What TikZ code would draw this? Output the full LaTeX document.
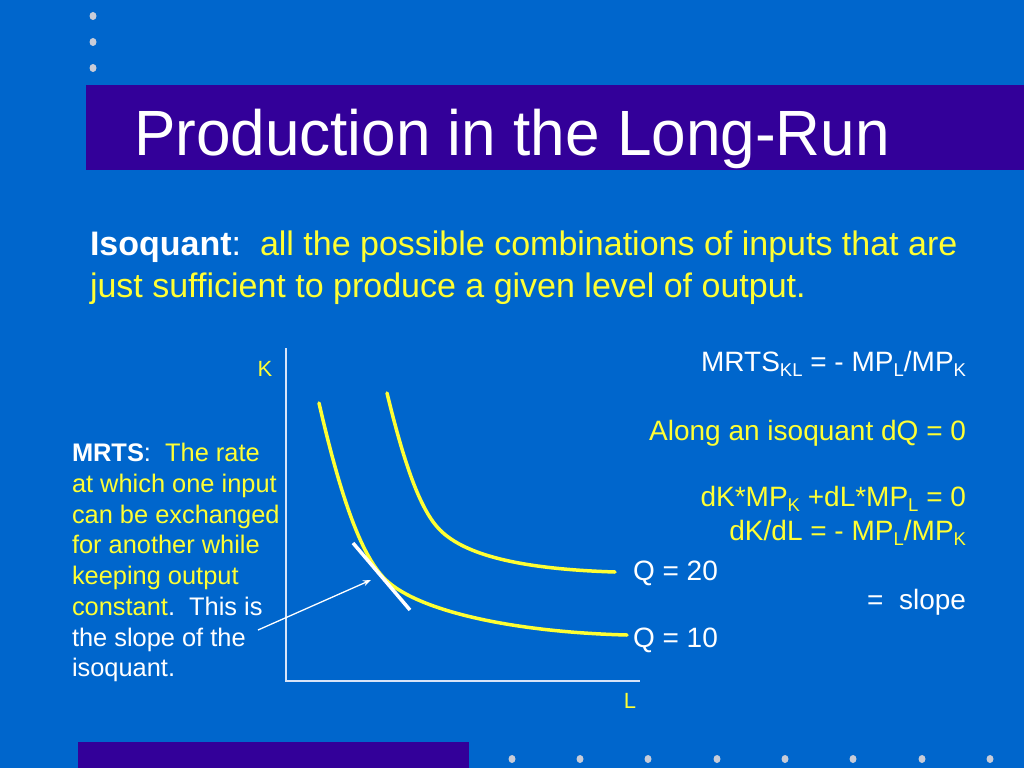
\documentclass[tikz,border=0pt]{standalone}
\usepackage{fontspec}
\setmainfont{Liberation Sans}
\usetikzlibrary{arrows.meta}
\definecolor{bgblue}{HTML}{0066CC}
\definecolor{barpurple}{HTML}{330099}
\definecolor{ylw}{HTML}{FFFF33}
\definecolor{dotgray}{HTML}{C8CCD8}
\definecolor{axiscol}{HTML}{D8E4F8}
\newcommand{\mysub}[1]{\raisebox{-5pt}{\fontsize{18.5}{18.5}\selectfont #1}}
\begin{document}
\begin{tikzpicture}[x=1pt,y=-1pt,
  txt/.style={inner sep=0pt, outer sep=0pt},
  titlefont/.style={font=\fontsize{64}{70}\selectfont, text=white},
  bodyfont/.style={font=\fontsize{34}{42}\selectfont, text=ylw},
  leftfont/.style={font=\fontsize{25.4}{30}\selectfont, text=ylw},
  rightfont/.style={font=\fontsize{28}{34}\selectfont},
  axislabel/.style={font=\fontsize{22}{26}\selectfont, text=ylw},
  curve/.style={draw=ylw, line width=3.5pt, line cap=round},
  axisline/.style={draw=axiscol, line width=1.5pt},
  tangentline/.style={draw=white, line width=3.5pt},
  pointer/.style={draw=white, line width=1.3pt, -{Stealth[length=8pt,width=6pt]}},
  dotmark/.style={fill=dotgray, draw=none}
]
\useasboundingbox (0,0) rectangle (1024,768);
\fill[bgblue] (0,0) rectangle (1024,768);
% bars
\fill[barpurple] (86,85) rectangle (1024,170);
\fill[barpurple] (78,742) rectangle (469,768);
% dots
\foreach \yy in {16,42,68} \fill[dotmark] (93,\yy) ellipse (3.5pt and 4pt);
\foreach \xx in {512,580,648,717,785,853,922,990} \fill[dotmark] (\xx,759) ellipse (3.5pt and 4pt);
% title
\node[txt, titlefont, anchor=base west, xscale=0.97] (title) at (134,155) {Production in the Long-Run};
% definition
\node[txt, bodyfont, anchor=base west] (def1) at (90,255) {\textcolor{white}{\textbf{Isoquant}:}\ \ all the possible combinations of inputs that are};
\node[txt, bodyfont, anchor=base west] (def2) at (90,297) {just sufficient to produce a given level of output.};
% left text
\node[txt, leftfont, anchor=base west] (m1) at (72,461) {\textcolor{white}{\textbf{MRTS}:}\ \ The rate};
\node[txt, leftfont, anchor=base west] (m2) at (72,492) {at which one input};
\node[txt, leftfont, anchor=base west] (m3) at (72,523) {can be exchanged};
\node[txt, leftfont, anchor=base west] (m4) at (72,553) {for another while};
\node[txt, leftfont, anchor=base west] (m5) at (72,584) {keeping output};
\node[txt, leftfont, anchor=base west] (m6) at (72,615) {constant\textcolor{white}{.\ \ This is}};
\node[txt, leftfont, anchor=base west, text=white] (m7) at (72,646) {the slope of the};
\node[txt, leftfont, anchor=base west, text=white] (m8) at (72,676) {isoquant.};
% right text
\node[txt, rightfont, anchor=base east, text=white] (r1) at (966,371) {MRTS\mysub{KL} = - MP\mysub{L}/MP\mysub{K}};
\node[txt, rightfont, anchor=base east, text=ylw] (r2) at (966,440) {Along an isoquant dQ = 0};
\node[txt, rightfont, anchor=base east, text=ylw] (r3) at (966,506) {dK*MP\mysub{K} +dL*MP\mysub{L} = 0};
\node[txt, rightfont, anchor=base east, text=ylw] (r4) at (966,540) {dK/dL = - MP\mysub{L}/MP\mysub{K}};
\node[txt, rightfont, anchor=base east, text=white] (r5) at (966,609) {=\ \ slope};
% axes
\coordinate (origin) at (286,681);
\coordinate (ytop) at (286,348);
\coordinate (xend) at (640,681);
\draw[axisline] (ytop) -- (origin) -- (xend);
\node[txt, axislabel, anchor=base] (klabel) at (265,376) {K};
\node[txt, axislabel, anchor=base] (llabel) at (630,708) {L};
% isoquants
\coordinate (a0) at (319,403);
\coordinate (a1) at (383,577);
\coordinate (a2) at (627,635);
\draw[curve] (a0) .. controls (341,499) and (361,553) .. (a1)
                  .. controls (413,610) and (510,632) .. (a2);
\coordinate (b0) at (387,393);
\coordinate (b1) at (440,530);
\coordinate (b2) at (615,572);
\draw[curve] (b0) .. controls (404,463) and (420,510) .. (b1)
                  .. controls (465,555) and (520,569) .. (b2);
\node[txt, rightfont, anchor=base west, text=white] (q20) at (633,580) {Q = 20};
\node[txt, rightfont, anchor=base west, text=white] (q10) at (633,647) {Q = 10};
% tangent
\coordinate (t1) at (353,543);
\coordinate (t2) at (410,610);
\draw[tangentline] (t1) -- (t2);
% pointer
\coordinate (pstart) at (258,630);
\coordinate (ptip) at (371,580);
\draw[pointer] (pstart) -- (ptip);
\end{tikzpicture}
\end{document}
